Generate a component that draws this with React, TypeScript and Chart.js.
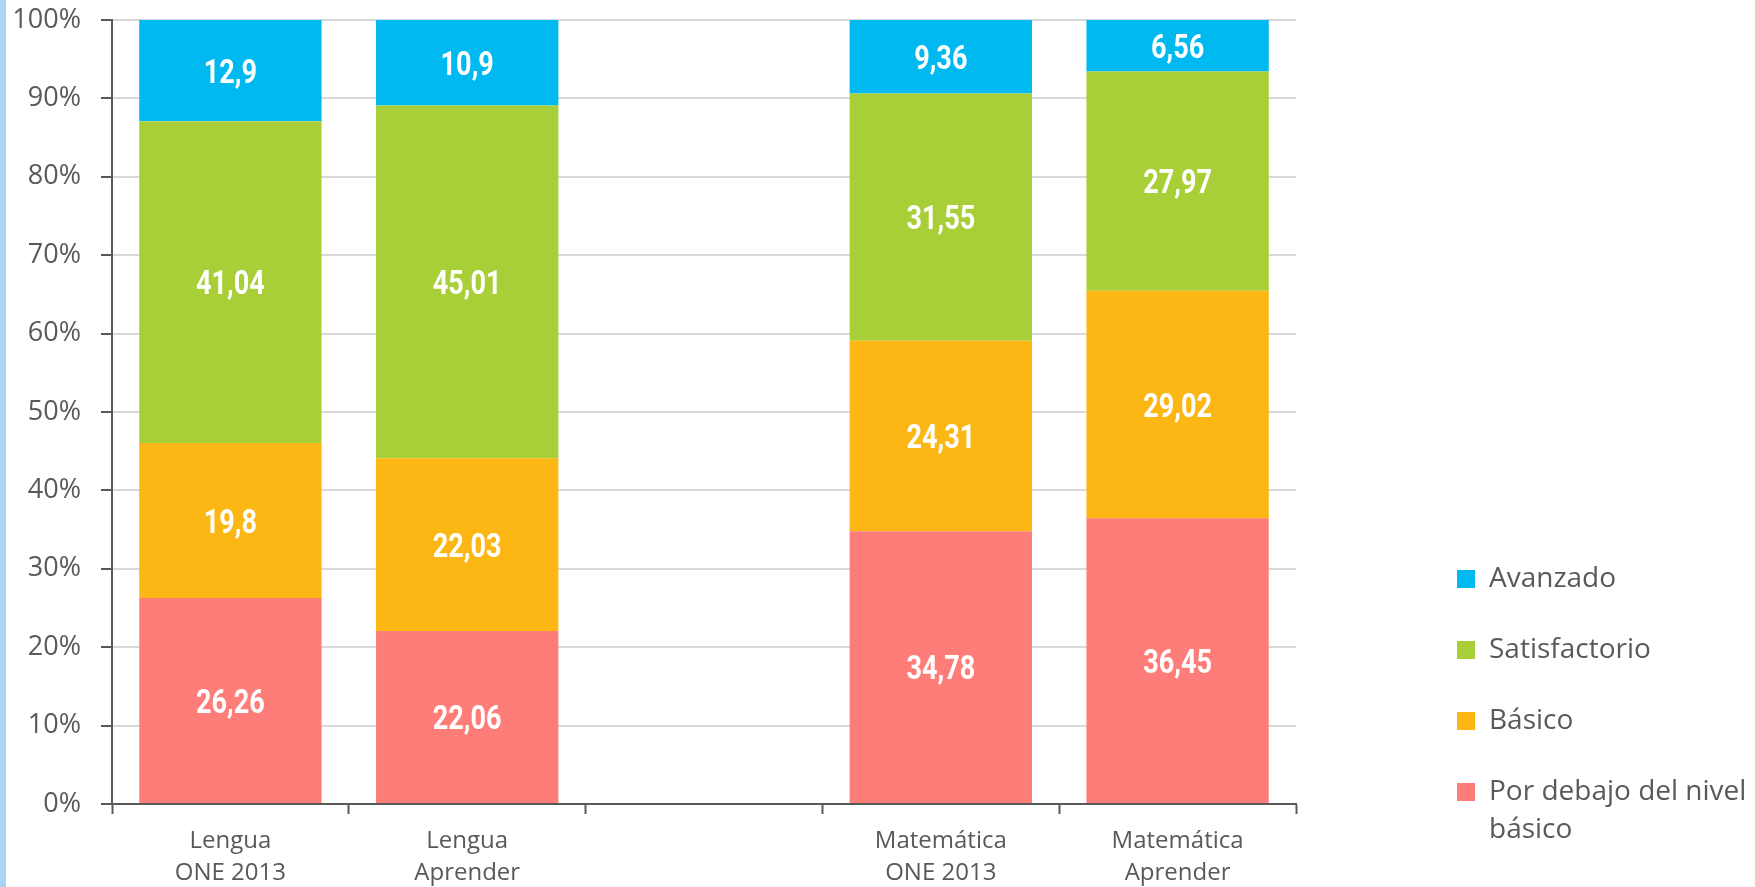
import React, { useEffect, useRef } from 'react';
import { Chart, registerables } from 'chart.js';

Chart.register(...registerables);

// ---------- data ----------
const categories: (string | string[])[] = [
  ['Lengua', 'ONE 2013'],
  ['Lengua', 'Aprender'],
  '',
  ['Matemática', 'ONE 2013'],
  ['Matemática', 'Aprender'],
];
const porDebajo = [26.26, 22.06, null, 34.78, 36.45];
const basico = [19.8, 22.03, null, 24.31, 29.02];
const satisfactorio = [41.04, 45.01, null, 31.55, 27.97];
const avanzado = [12.9, 10.9, null, 9.36, 6.56];

const seriesNames = ['Por debajo del nivel básico', 'Básico', 'Satisfactorio', 'Avanzado'];
const legendLines: (string | string[])[] = [['Por debajo del nivel', 'básico'], 'Básico', 'Satisfactorio', 'Avanzado'];
const seriesColors = ['#ff7d79', '#fcb715', '#a8cf38', '#00b9f1'];

const yMin = 0;
const yMax = 100;
const yStep = 10;

// ---------- layout constants ----------
const STRIPE = 6;
const CANVAS_W = 1755 - STRIPE;
const CANVAS_H = 887;
const Y_AXIS_W = 106;
const X_AXIS_H = 83;
const LEGEND_W = 459;
const LEGEND_ITEM_X = 1451;
const LEGEND_ITEM_Y = 565;

const GRAY_TEXT = '#595959';
const AXIS = '#595959';

const legendPlacer = {
  id: 'legendPlacer',
  afterInit(chart: any) {
    const lg: any = chart.legend;
    if (!lg || lg.__patched) return;
    lg.__patched = true;
    const fit = lg.fit;
    lg.fit = function () {
      fit.call(this);
      if (this.options.display) this.width = LEGEND_W;
    };
    const draw = lg.draw;
    lg.draw = function (...args: any[]) {
      const pad = this.options.labels.padding;
      const dx = LEGEND_ITEM_X - (this.left + pad);
      const dy = LEGEND_ITEM_Y - (this.top + pad);
      this.ctx.save();
      this.ctx.translate(dx, dy);
      draw.apply(this, args);
      this.ctx.restore();
    };
  },
};

const valueLabels = {
  id: 'valueLabels',
  afterDatasetsDraw(chart: any) {
    const ctx = chart.ctx;
    chart.data.datasets.forEach((ds: any, di: number) => {
      const meta = chart.getDatasetMeta(di);
      meta.data.forEach((el: any, i: number) => {
        const v = ds.data[i];
        if (v === null || v === undefined) return;
        const { x, y, base } = el.getProps(['x', 'y', 'base'], true);
        const cy = (y + base) / 2;
        ctx.save();
        ctx.translate(x, cy);
        ctx.scale(0.82, 1);
        ctx.font = 'bold 33px Roboto';
        ctx.fillStyle = '#ffffff';
        ctx.textAlign = 'center';
        ctx.textBaseline = 'middle';
        ctx.fillText(String(v).replace('.', ','), 0, 4);
        ctx.restore();
      });
    });
  },
};

export default function App() {
  const ref = useRef<HTMLCanvasElement | null>(null);

  useEffect(() => {
    if (!ref.current) return;
    const seriesData = [porDebajo, basico, satisfactorio, avanzado];
    const chart = new Chart(ref.current, {
      type: 'bar',
      data: {
        labels: categories as any,
        datasets: seriesData.map((d, i) => ({
          label: seriesNames[i],
          data: d as any,
          backgroundColor: seriesColors[i],
          borderWidth: 0,
          barPercentage: 0.77,
          categoryPercentage: 1,
        })),
      },
      options: {
        responsive: false,
        animation: false,
        layout: { padding: { top: 20, left: 0, right: 0, bottom: 0 } },
        plugins: {
          tooltip: { enabled: false },
          legend: {
            position: 'right',
            align: 'start',
            reverse: true,
            labels: {
              boxWidth: 18,
              boxHeight: 18,
              padding: 43,
              color: GRAY_TEXT,
              font: { family: "'Open Sans', sans-serif", size: 28, lineHeight: '38px' as any },
              generateLabels: (c: any) => {
                const items = (Chart.defaults.plugins.legend.labels as any).generateLabels(c);
                items.forEach((it: any) => {
                  it.text = legendLines[it.datasetIndex];
                  it.lineWidth = 0;
                });
                return items;
              },
            },
          },
        },
        scales: {
          x: {
            stacked: true,
            offset: true,
            grid: {
              display: true,
              drawOnChartArea: false,
              drawTicks: true,
              tickLength: 10,
              tickColor: AXIS,
              tickWidth: 2,
              offset: true,
            },
            border: { display: true, color: AXIS, width: 2 },
            ticks: {
              color: GRAY_TEXT,
              padding: 11,
              maxRotation: 0,
              autoSkip: false,
              font: { family: "'Open Sans', sans-serif", size: 24, lineHeight: '32px' as any },
            },
            afterFit: (s: any) => {
              s.height = X_AXIS_H;
            },
          },
          y: {
            stacked: true,
            min: yMin,
            max: yMax,
            grid: {
              color: (c: any) => (c.tick && c.tick.value === 0 ? 'rgba(0,0,0,0)' : '#d9d9d9'),
              lineWidth: 2,
              drawTicks: true,
              tickLength: 11,
              tickColor: AXIS,
              tickWidth: 2,
            },
            border: { display: true, color: AXIS, width: 2 },
            ticks: {
              stepSize: yStep,
              color: GRAY_TEXT,
              padding: 20,
              font: { family: "'Open Sans', sans-serif", size: 27 },
              callback: (v: any) => v + '%',
            },
            afterFit: (s: any) => {
              s.width = Y_AXIS_W;
              s.paddingTop = 0;
            },
          },
        },
      },
      plugins: [legendPlacer, valueLabels],
    });
    return () => chart.destroy();
  }, []);

  return (
    <div
      style={{
        position: 'absolute',
        left: 0,
        top: 0,
        width: 1755,
        height: 887,
        boxSizing: 'border-box',
        borderLeft: `${STRIPE}px solid #a9d6f7`,
        background: '#ffffff',
      }}
    >
      <canvas ref={ref} width={CANVAS_W} height={CANVAS_H} style={{ display: 'block' }} />
    </div>
  );
}
